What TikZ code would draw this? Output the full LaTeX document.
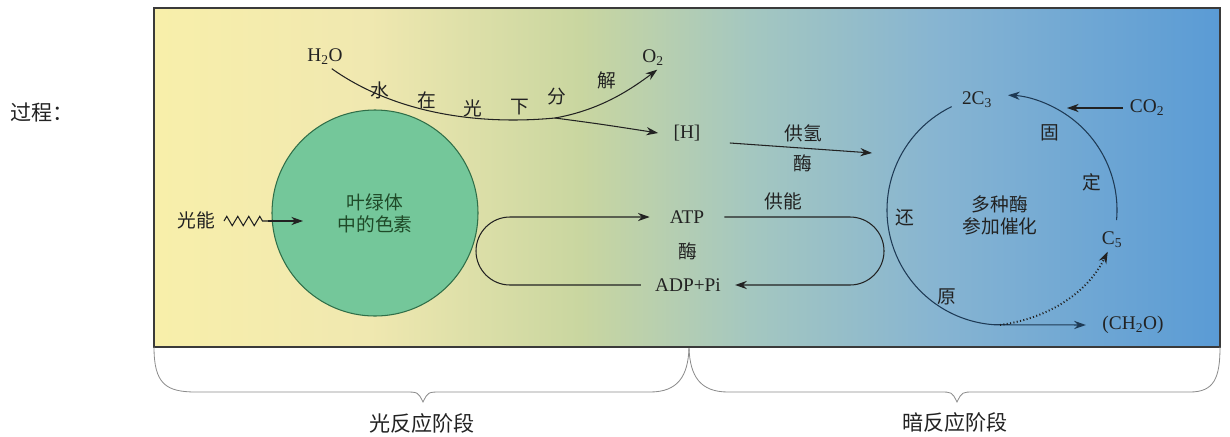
\documentclass[tikz,border=0pt]{standalone}
\usepackage{fontspec}
\setmainfont{Liberation Serif}
\newfontfamily\cjk{Noto Sans CJK SC}
\usetikzlibrary{arrows.meta,positioning,decorations.pathmorphing}
\definecolor{ink}{HTML}{222222}
\definecolor{frame}{HTML}{3A3A3A}
\definecolor{bgyel}{HTML}{F8EFAA}
\definecolor{bgyel2}{HTML}{F0E8B0}
\definecolor{bgmid}{HTML}{C9D6A0}
\definecolor{bgteal}{HTML}{A4C7C0}
\definecolor{bgsky}{HTML}{86B4D2}
\definecolor{bgblue}{HTML}{5A9BD5}
\definecolor{pigfill}{HTML}{74C79A}
\definecolor{pigline}{HTML}{2F6E48}
\definecolor{pigtext}{HTML}{1F4A28}
\definecolor{cycline}{HTML}{1E3A55}
\pgfdeclarehorizontalshading{stage}{100bp}{color(0bp)=(bgyel); color(25bp)=(bgyel);
  color(35bp)=(bgyel2); color(45bp)=(bgmid); color(53bp)=(bgteal);
  color(62bp)=(bgsky); color(75bp)=(bgblue); color(100bp)=(bgblue)}
\begin{document}
\begin{tikzpicture}[x=0.03cm,y=-0.03cm,
    zh/.style={font=\cjk\fontsize{16}{19}\selectfont,text=ink,inner sep=2pt},
    chem/.style={font=\fontsize{16.5}{19}\selectfont,text=ink,inner sep=3pt},
    line/.style={draw=ink,line width=0.9pt},
    flow/.style={line,-{Stealth[length=10pt,width=7pt]}},
    brace/.style={draw=black!45,line width=0.7pt}]
  \useasboundingbox (0,0) rectangle (1230,436);

  % background of the two stages
  \shade[shading=stage] (154,8) rectangle (1220,347);
  \draw[frame,line width=1.3pt] (154,8) rectangle (1220,347);

  \node[zh,font=\cjk\fontsize{18}{21}\selectfont] (title) at (42,112) {过程：};

  % light reaction
  \node[circle,draw=pigline,fill=pigfill,line width=0.9pt,minimum size=6.18cm,
    inner sep=0pt,align=center,zh,text=pigtext] (pig) at (375,213) {叶绿体\\中的色素};
  \node[zh] (sun) at (196,220) {光能};
  \coordinate (zz0) at (224,221);
  \coordinate (zz1) at (268,221);
  \coordinate (pin) at (303,221);
  \draw[line,decorate,decoration={zigzag,segment length=0.33cm,amplitude=0.14cm}] (zz0) -- (zz1);
  \draw[flow] (zz1) -- (pin);

  \node[chem] (h2o) at (325,57) {H\textsubscript{2}O};
  \node[chem] (o2) at (653,58) {O\textsubscript{2}};
  \node[chem,inner xsep=13pt] (h) at (687,133) {[H]};
  \coordinate (split) at (555,118);
  \draw[line] (h2o.-60) .. controls (390,110) and (470,126) .. (split);
  \draw[flow] (split) .. controls (600,110) and (630,90) .. (o2.-70);
  \draw[flow] (split) .. controls (600,124) .. (h.west);
  \foreach \ch/\px/\py [count=\i] in {水/380/90,在/427/100,光/473/108,下/520/107,分/557/97,解/607/80}
    \node[zh] (w\i) at (\px,\py) {\ch};

  \coordinate (hend) at (872,153);
  \draw[flow,shorten <=12pt] ([yshift=-0.27cm]h.east) -- (hend);
  \node[zh] (gq) at (803,133) {供氢};
  \node[zh] (m1) at (803,163) {酶};

  % ATP loop
  \node[chem,inner xsep=17pt] (atp) at (687,217) {ATP};
  \node[chem,inner xsep=12pt] (adp) at (688,285) {ADP+Pi};
  \node[zh] (m2) at (688,251) {酶};
  \node[zh] (gn) at (783,201) {供能};
  \draw[flow] (adp.west) -- (510,285) arc[start angle=90,end angle=270,radius=34] -- (atp.west);
  \draw[flow] (atp.east) -- (850,217) arc[start angle=-90,end angle=90,radius=34] -- (adp.east);

  % dark reaction
  \coordinate (cyc) at (1002,210);
  \node[chem] (c3) at (977,100) {2C\textsubscript{3}};
  \node[chem,inner xsep=6pt] (co2) at (1147,108) {CO\textsubscript{2}};
  \node[chem] (c5) at (1112,240) {C\textsubscript{5}};
  \node[chem,inner xsep=14pt] (ch2o) at (1133,325) {(CH\textsubscript{2}O)};
  \coordinate (cin) at (1067,108);
  \draw[flow] (co2.west) -- (cin);
  \draw[flow,draw=cycline] (cyc) ++(5:115) arc[start angle=5,end angle=-87,radius=115];
  \draw[flow,draw=cycline] (cyc) ++(244:115) arc[start angle=244,end angle=94,radius=115] -- (ch2o.west);
  \coordinate (dstart) at (1000,325);
  \draw[flow,dotted,line width=1.6pt] (dstart) .. controls (1050,318) and (1088,292) .. (c5.-110);
  \node[zh] (gu) at (1050,133) {固};
  \node[zh] (di) at (1092,182) {定};
  \node[zh] (hu) at (905,218) {还};
  \node[zh] (yu) at (947,297) {原};
  \node[zh,align=center] (enz) at (1000,215) {多种酶\\参加催化};

  % stage braces
  \draw[brace] (154,347) .. controls (154,384) and (166,392) .. (196,392) -- (405,392)
    .. controls (418,392) .. (423,402) .. controls (428,392) .. (441,392) -- (650,392)
    .. controls (678,392) and (688,376) .. (689,348);
  \draw[brace] (689,348) .. controls (690,376) and (700,392) .. (728,392) -- (940,392)
    .. controls (952,392) .. (957,402) .. controls (962,392) .. (974,392) -- (1190,392)
    .. controls (1214,392) and (1220,378) .. (1220,347);
  \node[zh,font=\cjk\fontsize{18}{21}\selectfont] (lr) at (422,423) {光反应阶段};
  \node[zh,font=\cjk\fontsize{18}{21}\selectfont] (dr) at (955,422) {暗反应阶段};
\end{tikzpicture}
\end{document}
